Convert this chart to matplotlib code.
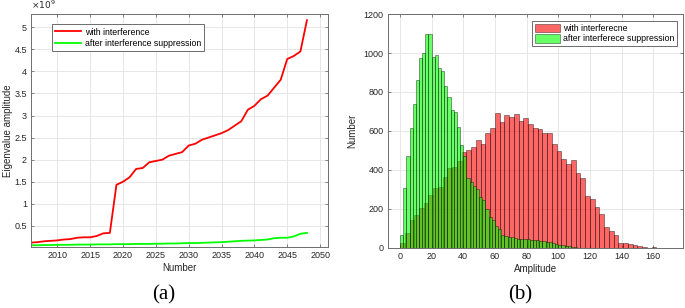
import matplotlib
matplotlib.use("Agg")
import matplotlib.pyplot as plt
import numpy as np

# ---- data (a): eigenvalue amplitude, in units of 1e9 ----
years = list(range(2006, 2049))
with_interf = [0.12, 0.13, 0.15, 0.16, 0.17, 0.19, 0.20, 0.23, 0.24, 0.24,
               0.27, 0.33, 0.34, 1.43, 1.50, 1.60, 1.79, 1.81, 1.94, 1.97,
               2.00, 2.09, 2.13, 2.17, 2.32, 2.36, 2.45, 2.50, 2.55, 2.60,
               2.67, 2.77, 2.87, 3.13, 3.22, 3.37, 3.45, 3.63, 3.81, 4.28,
               4.35, 4.45, 5.16]
after_supp = [0.06, 0.06, 0.065, 0.065, 0.07, 0.07, 0.07, 0.075, 0.075, 0.075,
              0.08, 0.08, 0.08, 0.085, 0.085, 0.085, 0.09, 0.09, 0.09, 0.095,
              0.095, 0.10, 0.10, 0.105, 0.11, 0.11, 0.115, 0.12, 0.125, 0.13,
              0.14, 0.15, 0.16, 0.165, 0.17, 0.18, 0.19, 0.22, 0.23, 0.23,
              0.26, 0.32, 0.34]

# ---- data (b): histogram counts ----
red_width = 3
red_counts = [25, 75, 142, 170, 205, 228, 270, 305, 315, 365,
              408, 415, 448, 491, 503, 516, 554, 533, 588, 614,
              692, 645, 682, 671, 686, 652, 668, 636, 614, 609,
              590, 588, 533, 496, 455, 432, 451, 383, 357, 267,
              250, 209, 174, 106, 89, 67, 24, 27, 21, 14,
              10, 7, 0, 3]
green_width = 2
green_counts = [67, 306, 472, 614, 738, 862, 972, 1002, 1100, 1100,
                978, 990, 921, 909, 831, 776, 708, 699, 619, 528,
                470, 360, 340, 320, 300, 263, 245, 200, 160, 145,
                110, 95, 68, 60, 57, 55, 50, 48, 46, 45,
                44, 43, 42, 40, 37, 35, 33, 30, 24, 20,
                17, 14, 12, 9, 6, 3]

plt.rcParams['font.family'] = ['Liberation Sans', 'DejaVu Sans']
tick_col = '#262626'
spine_col = '#6e6e6e'

fig = plt.figure(figsize=(6.85, 3.08), dpi=100)
ax1 = fig.add_axes([0.0453, 0.198, 0.4335, 0.7565])
ax2 = fig.add_axes([0.5664, 0.195, 0.4306, 0.7595])

# (a) line chart
yr = np.array(years)
ax1.plot(yr, np.array(with_interf) * 1e9, color=(1, 0, 0), lw=1.3,
         label='with interference')
ax1.plot(yr, np.array(after_supp) * 1e9, color=(0, 1, 0), lw=1.3,
         label='after interference suppression')
ax1.set_xlim(2006, 2051.2)
ax1.set_ylim(0.02e9, 5.3e9)
ax1.set_xticks(range(2010, 2051, 5))
yt = np.arange(0.5, 5.01, 0.5)
ax1.set_yticks(yt * 1e9)
ax1.set_yticklabels(['%g' % v for v in yt])
ax1.text(0.0, 1.012, r'$\times10^{9}$', transform=ax1.transAxes,
         fontsize=6.5, color=tick_col, ha='left', va='bottom')
ax1.set_xlabel('Number', fontsize=7, color=tick_col, labelpad=2)
ax1.set_ylabel('Eigenvalue amplitude', fontsize=7, color=tick_col, labelpad=1)
leg1 = ax1.legend(loc='upper left', bbox_to_anchor=(0.07, 0.955), fontsize=6.3,
                  frameon=True, fancybox=False, framealpha=1, edgecolor='#555555',
                  handlelength=3.0, borderpad=0.35, labelspacing=0.25,
                  handletextpad=0.4, borderaxespad=0)
leg1.get_frame().set_linewidth(0.6)

# (b) histograms
red_edges = np.arange(len(red_counts)) * red_width
green_edges = np.arange(len(green_counts)) * green_width
ax2.bar(red_edges, red_counts, width=red_width, align='edge',
        color=(1, 0, 0, 0.6), edgecolor=(0, 0, 0, 0.55), linewidth=0.5,
        label='with interferecne')
ax2.bar(green_edges, green_counts, width=green_width, align='edge',
        color=(0, 1, 0, 0.6), edgecolor=(0, 0, 0, 0.55), linewidth=0.5,
        label='after interferece suppression')
ax2.set_xlim(-7.6, 178.8)
ax2.set_ylim(0, 1200)
ax2.set_xticks(range(0, 161, 20))
ax2.set_yticks(range(0, 1201, 200))
ax2.set_xlabel('Amplitude', fontsize=7, color=tick_col, labelpad=2)
ax2.set_ylabel('Number', fontsize=7, color=tick_col, labelpad=5)
leg2 = ax2.legend(loc='upper right', bbox_to_anchor=(0.98, 0.97), fontsize=6.3,
                  frameon=True, fancybox=False, framealpha=1, edgecolor='#555555',
                  handlelength=2.8, handleheight=1.1, borderpad=0.3,
                  labelspacing=0.15, handletextpad=0.4, borderaxespad=0)
leg2.get_frame().set_linewidth(0.6)

for ax in (ax1, ax2):
    ax.grid(True, color='#e3e3e3', lw=0.6)
    ax.set_axisbelow(True)
    ax.tick_params(direction='in', length=2.5, width=0.6, top=True, right=True,
                   labelsize=6.5, colors=spine_col, labelcolor=tick_col, pad=3)
    for s in ax.spines.values():
        s.set_color(spine_col)
        s.set_linewidth(0.7)

fig.text(164 / 685, 1 - 295 / 308, '(a)', family=['Liberation Serif', 'DejaVu Serif'],
         fontsize=15, ha='center', va='center')
fig.text(520 / 685, 1 - 295 / 308, '(b)', family=['Liberation Serif', 'DejaVu Serif'],
         fontsize=15, ha='center', va='center')

fig.savefig('out.png', dpi=100)
